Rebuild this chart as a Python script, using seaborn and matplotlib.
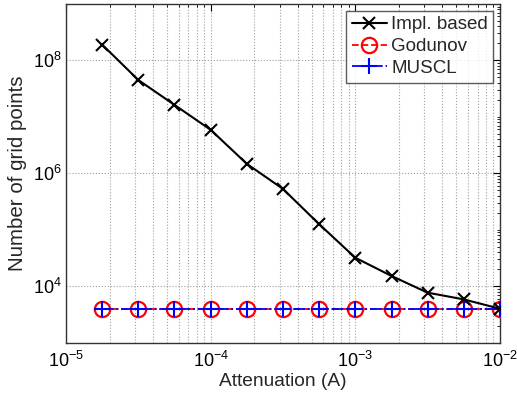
import numpy as np
import pandas as pd
import matplotlib
matplotlib.use("Agg")
import matplotlib.pyplot as plt
import matplotlib.ticker as mticker
import seaborn as sns

attenuation = [1.78e-5, 3.16e-5, 5.62e-5, 1.0e-4, 1.78e-4, 3.16e-4,
               5.62e-4, 1.0e-3, 1.78e-3, 3.16e-3, 5.62e-3, 1.0e-2]
impl_based = [1.9e8, 4.5e7, 1.63e7, 5.9e6, 1.47e6, 5.3e5,
              1.26e5, 3.2e4, 1.52e4, 7.7e3, 5.85e3, 4.0e3]
godunov = [4.0e3] * 12
muscl = [4.0e3] * 12
series_names = ["Impl. based", "Godunov", "MUSCL"]

sns.set_style("white")
plt.rcParams['font.family'] = ['Liberation Sans', 'DejaVu Sans']

fig = plt.figure(figsize=(5.17, 3.96), dpi=100)
ax = fig.add_axes([0.1277, 0.1346, 0.967 - 0.1277, 0.990 - 0.1346])

df = pd.DataFrame({"A": attenuation, "impl": impl_based, "god": godunov, "mus": muscl})

sns.lineplot(data=df, x="A", y="impl", ax=ax, color="black", marker="x",
             markersize=8.5, markeredgecolor="black", markeredgewidth=1.5,
             linewidth=1.5, label=series_names[0], zorder=5)
sns.lineplot(data=df, x="A", y="god", ax=ax, color="red", marker="o",
             markersize=11, markerfacecolor="none", markeredgecolor="red",
             markeredgewidth=1.6, linewidth=1.3, linestyle="--",
             label=series_names[1], zorder=3)
sns.lineplot(data=df, x="A", y="mus", ax=ax, color="blue", marker="+",
             markersize=11, markeredgecolor="blue", markeredgewidth=1.5,
             linewidth=1.3, linestyle="-.", label=series_names[2], zorder=4)

ax.set_xscale("log")
ax.set_yscale("log")
ax.set_xlim(1e-5, 1e-2)
ax.set_ylim(1e3, 1e9)

ax.xaxis.set_major_locator(mticker.FixedLocator([1e-5, 1e-4, 1e-3, 1e-2]))
ax.xaxis.set_minor_locator(mticker.LogLocator(base=10, subs=np.arange(2, 10), numticks=100))
ax.yaxis.set_major_locator(mticker.FixedLocator([1e4, 1e6, 1e8]))
ax.yaxis.set_minor_locator(mticker.LogLocator(base=10, subs=np.arange(1, 10), numticks=100))
ax.xaxis.set_major_formatter(mticker.LogFormatterMathtext())
ax.yaxis.set_major_formatter(mticker.LogFormatterMathtext())
ax.xaxis.set_minor_formatter(mticker.NullFormatter())
ax.yaxis.set_minor_formatter(mticker.NullFormatter())

ax.grid(which="major", axis="both", color="#a0a0a0", linestyle=":", linewidth=0.8)
ax.grid(which="minor", axis="x", color="#a0a0a0", linestyle=":", linewidth=0.8)

ax.tick_params(which="both", direction="in", top=True, right=True,
               labelsize=13, colors="black")
ax.tick_params(which="major", length=5, width=0.8)
ax.tick_params(which="minor", length=2.5, width=0.6)
ax.tick_params(axis="y", which="major", pad=3)
ax.tick_params(axis="x", which="major", pad=6)
for s in ax.spines.values():
    s.set_color("#333333")
    s.set_linewidth(1.0)

ax.set_xlabel("Attenuation (A)", fontsize=13.8, labelpad=1)
ax.set_ylabel("Number of grid points", fontsize=14.8)
ax.yaxis.set_label_coords(-0.09, 0.5)

leg = ax.legend(loc="upper right", fontsize=13.5, frameon=True, fancybox=False,
                edgecolor="#333333", handlelength=1.9, handletextpad=0.2,
                borderpad=0.3, labelspacing=0.25, borderaxespad=0.35)
leg.get_frame().set_linewidth(1.0)

fig.savefig("out.png", dpi=100, facecolor="white")
